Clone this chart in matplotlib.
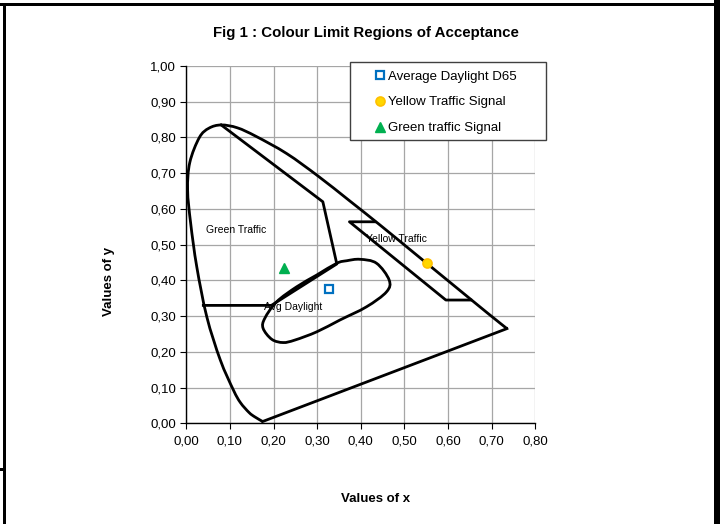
import numpy as np
import matplotlib
matplotlib.use('Agg')
import matplotlib.pyplot as plt
from matplotlib.lines import Line2D
from matplotlib.patches import Rectangle, PathPatch
from matplotlib.path import Path
from matplotlib.ticker import FuncFormatter, MultipleLocator

plt.rcParams['font.family'] = ['Liberation Sans', 'DejaVu Sans']

# spectral locus (smoothed series), closed by the straight purple line
locus_x = [0.175, 0.157, 0.144, 0.124, 0.108, 0.078, 0.047, 0.024, 0.010, 0.003, 0.008,
           0.030, 0.052, 0.080, 0.117, 0.160, 0.230, 0.302, 0.373, 0.444, 0.512, 0.575,
           0.627, 0.691, 0.735]
locus_y = [0.005, 0.018, 0.030, 0.058, 0.093, 0.177, 0.298, 0.438, 0.560, 0.653, 0.730,
           0.800, 0.826, 0.835, 0.827, 0.803, 0.755, 0.692, 0.624, 0.555, 0.487, 0.424,
           0.372, 0.308, 0.265]
purple_x = [0.735, 0.175]
purple_y = [0.265, 0.005]

# green traffic region
green_x = [0.080, 0.313, 0.345, 0.195, 0.039]
green_y = [0.835, 0.620, 0.446, 0.330, 0.330]

# yellow traffic region
yellow_x = [0.432, 0.374, 0.595, 0.652]
yellow_y = [0.564, 0.564, 0.345, 0.345]

# average daylight region (closed, smoothed)
day_x = [0.398, 0.436, 0.465, 0.459, 0.413, 0.352, 0.299, 0.249, 0.222, 0.196, 0.176,
         0.180, 0.207, 0.253, 0.299, 0.345, 0.368]
day_y = [0.459, 0.448, 0.401, 0.368, 0.326, 0.289, 0.256, 0.233, 0.226, 0.235, 0.266,
         0.294, 0.340, 0.382, 0.415, 0.448, 0.455]

# signal points
d65 = (0.327, 0.375)
yellow_sig = (0.551, 0.448)
green_sig = (0.225, 0.436)

W, H = 727, 524
fig = plt.figure(figsize=(W / 100, H / 100), dpi=100)


def px_rect(x0, y0, x1, y1):
    # rectangle in pixel coords (origin top-left)
    return Rectangle((x0 / W, 1 - y1 / H), (x1 - x0) / W, (y1 - y0) / H,
                     transform=fig.transFigure, facecolor='black', edgecolor='none')


def smooth_path(xs, ys, closed=False):
    # excel-like smoothed line: catmull-rom segments as cubic beziers
    p = np.column_stack([xs, ys])
    n = len(p)
    if closed:
        p = np.vstack([p, p[:1]])
    verts = [p[0]]
    codes = [Path.MOVETO]
    m = len(p)
    for i in range(m - 1):
        if closed:
            p0 = p[(i - 1) % n]
            p3 = p[(i + 2) % n]
        else:
            p0 = p[max(i - 1, 0)]
            p3 = p[min(i + 2, m - 1)]
        p1, p2 = p[i], p[i + 1]
        verts += [p1 + (p2 - p0) / 6, p2 - (p3 - p1) / 6, p2]
        codes += [Path.CURVE4] * 3
    return Path(verts, codes)


for r in [px_rect(0, 3, 714, 6), px_rect(3, 3, 6, 524), px_rect(0, 468, 6, 471),
          px_rect(714, 0, 720, 524)]:
    fig.patches.append(r)

ax = fig.add_axes([186.3 / W, 1 - 423.3 / H, 349 / W, 357.3 / H])
ax.set_xlim(0, 0.8)
ax.set_ylim(0, 1.0)
ax.xaxis.set_major_locator(MultipleLocator(0.1))
ax.yaxis.set_major_locator(MultipleLocator(0.1))
fmt = FuncFormatter(lambda v, p: f'{v:.2f}'.replace('.', ','))
ax.xaxis.set_major_formatter(fmt)
ax.yaxis.set_major_formatter(fmt)
ax.grid(True, color='#A6A6A6', lw=0.9)
ax.set_axisbelow(True)
for s in ['top', 'right']:
    ax.spines[s].set_visible(False)
for s in ['left', 'bottom']:
    ax.spines[s].set_linewidth(1.0)
ax.tick_params(direction='out', length=4, width=0.8, labelsize=9.5, colors='black')
ax.tick_params(axis='x', pad=5)

lw = 2.0
ax.add_patch(PathPatch(smooth_path(locus_x, locus_y), fill=False, edgecolor='black',
                       lw=lw, clip_on=False))
ax.plot(purple_x, purple_y, color='black', lw=lw, clip_on=False)
ax.plot(green_x, green_y, color='black', lw=lw, clip_on=False)
ax.plot(yellow_x, yellow_y, color='black', lw=lw, clip_on=False)
ax.add_patch(PathPatch(smooth_path(day_x, day_y, closed=True), fill=False,
                       edgecolor='black', lw=lw, clip_on=False))

ax.plot(*d65, marker='s', ms=6, mfc='white', mec='#0070C0', mew=1.6, ls='none')
ax.plot(*yellow_sig, marker='o', ms=6.5, mfc='#FFD700', mec='#FFC000', mew=1.2, ls='none')
ax.plot(*green_sig, marker='^', ms=7.5, mfc='#00B050', mec='#00B050', ls='none')

ax.text(0.114, 0.541, 'Green Traffic', fontsize=7.5, ha='center', va='center')
ax.text(0.481, 0.516, 'Yellow Traffic', fontsize=7.5, ha='center', va='center')
ax.text(0.245, 0.326, 'Avg Daylight', fontsize=7.5, ha='center', va='center')

fig.text(366 / W, 1 - 33 / H, 'Fig 1 : Colour Limit Regions of Acceptance',
         fontsize=10.8, fontweight='bold', ha='center', va='center')
fig.text(376 / W, 1 - 499 / H, 'Values of x', fontsize=9.5, fontweight='bold',
         ha='center', va='center')
fig.text(109 / W, 1 - 281 / H, 'Values of y', fontsize=9.5, fontweight='bold',
         ha='center', va='center', rotation=90)

# legend
fig.patches.append(Rectangle((350 / W, 1 - 140 / H), 196 / W, 78 / H,
                             transform=fig.transFigure, facecolor='white',
                             edgecolor='#404040', lw=1.0, zorder=5))
handles = [
    Line2D([], [], marker='s', ms=6, mfc='white', mec='#0070C0', mew=1.6, ls='none'),
    Line2D([], [], marker='o', ms=6.5, mfc='#FFD700', mec='#FFC000', mew=1.2, ls='none'),
    Line2D([], [], marker='^', ms=7.5, mfc='#00B050', mec='#00B050', ls='none'),
]
labels = ['Average Daylight D65', 'Yellow Traffic Signal', 'Green traffic Signal']
leg = fig.legend(handles, labels, loc='upper left', bbox_to_anchor=(374.7 / W, 1 - 70.4 / H),
                 frameon=False, fontsize=9.5, handlelength=0.8, handletextpad=0.2,
                 labelspacing=1.03, borderpad=0, borderaxespad=0)
leg.set_zorder(6)

fig.savefig('out.png', dpi=100)
